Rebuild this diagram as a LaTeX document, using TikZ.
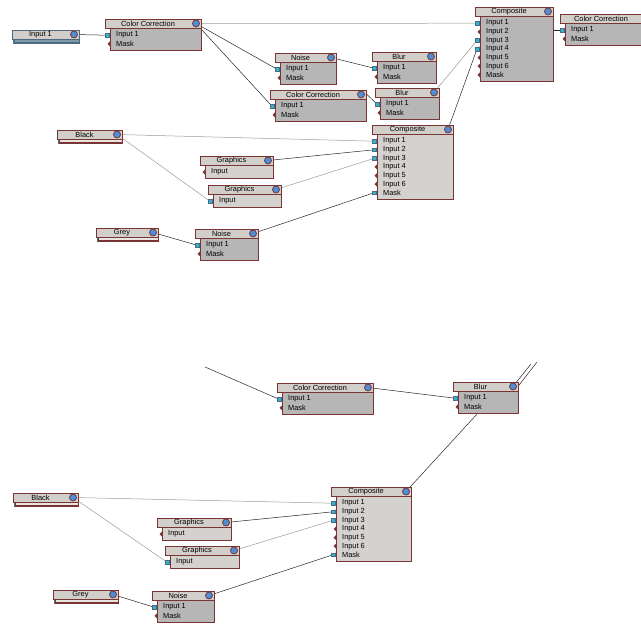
\documentclass[tikz,border=0pt]{standalone}
\usepackage{fontspec}
\setmainfont{Liberation Sans}
\usetikzlibrary{positioning,backgrounds}

\definecolor{nodeedge}{HTML}{7A3434}
\definecolor{nodeshade}{HTML}{3C8282}
\definecolor{titlegray}{HTML}{D2CFCB}
\definecolor{bodydark}{HTML}{B6B6B6}
\definecolor{bodylight}{HTML}{D4D2CE}
\definecolor{portblue}{HTML}{4A8FD8}
\definecolor{portcyan}{HTML}{2FB4D6}
\definecolor{srcedge}{HTML}{4E6A80}
\definecolor{srcstrip}{HTML}{7F98AA}
\definecolor{srclight}{HTML}{E8E4E0}
\definecolor{linkgray}{HTML}{9A9A9A}

% operator block: name, x, y, width, title, rows, body fill
\newcommand\opnode[7]{%
  \foreach \r [count=\i] in {#6} {\xdef\nrows{\i}}%
  \fill[nodeshade] (#2+6,#3+10) rectangle (#2+#4+1.2,#3+14.8+8.6*\nrows);
  \node[opbody, fill=#7, minimum width=#4-5, minimum height=4.6+8.6*\nrows] (#1-body) at (#2+5,#3+9) {};
  \fill[nodeshade] (#2+1,#3+1) rectangle (#2+#4+1.2,#3+10);
  \node[titlebar, minimum width=#4] (#1) at (#2,#3) {};
  \node[titletext] (#1-t) at (#2+#4/2-5,#3+4.6) {#5};
  \node[outport] (#1-out) at (#2+#4-5,#3+4.5) {};
  \foreach \r [count=\i] in {#6} {
    \node[rowtext] (#1-l\i) at (#2+11,#3+7.6+8.6*\i) {\r};
    \coordinate (#1-\i) at (#2+2,#3+7.6+8.6*\i);
    \fill[nodeedge] (#2+5,#3+5.1+8.6*\i) -- (#2+2.5,#3+7.6+8.6*\i) -- (#2+5,#3+10.1+8.6*\i) -- cycle;
  }%
}

% source block: name, x, y, width, title, edge, strip
\newcommand\srcnode[7]{%
  \fill[nodeshade] (#2+1,#3+1) rectangle (#2+#4+1.2,#3+14.2);
  \draw[draw=#6, fill=#7, line width=.6pt] (#2+2,#3+9) rectangle (#2+#4,#3+13);
  \draw[draw=#6, line width=1pt] (#2+2,#3+13) -- (#2+#4,#3+13);
  \node[titlebar, draw=#6, minimum width=#4] (#1) at (#2,#3) {};
  \node[titletext] (#1-t) at (#2+#4/2-5,#3+4.6) {#5};
  \node[outport] (#1-out) at (#2+#4-5,#3+4.5) {};
}

\begin{document}
\begin{tikzpicture}[x=1pt, y=-1pt,
    opbody/.style={draw=nodeedge, line width=.6pt, anchor=north west, inner sep=0pt},
    titlebar/.style={draw=nodeedge, fill=titlegray, line width=.6pt, minimum height=9pt, anchor=north west, inner sep=0pt},
    titletext/.style={font=\fontsize{7.4}{8}\selectfont, inner sep=0pt},
    rowtext/.style={font=\fontsize{7.4}{8}\selectfont, anchor=west, inner sep=0pt},
    outport/.style={circle, draw=nodeedge, fill=portblue, line width=.8pt, minimum size=7pt, inner sep=0pt},
    inport/.style={draw=srcedge, fill=portcyan, line width=.3pt},
    link/.style={draw=black!85, line width=.5pt},
    faint/.style={draw=linkgray, line width=.5pt}]

    \useasboundingbox (0,0) rectangle (641,628);
    \clip (0,0) rectangle (641,628);

    % ---------- upper graph ----------
    \srcnode{in1}{12}{30}{67}{Input 1}{srcedge}{srcstrip}
    \opnode{cca}{105}{19}{96}{Color Correction}{Input 1,Mask}{bodydark}
    \opnode{comp}{475}{7}{78}{Composite}{Input 1,Input 2,Input 3,Input 4,Input 5,Input 6,Mask}{bodydark}
    \opnode{ccr}{560}{14}{92}{Color Correction}{Input 1,Mask}{bodydark}
    \opnode{noiseA}{275}{53}{61}{Noise}{Input 1,Mask}{bodydark}
    \opnode{blurA}{372}{52}{64}{Blur}{Input 1,Mask}{bodydark}
    \opnode{ccb}{270}{90}{96}{Color Correction}{Input 1,Mask}{bodydark}
    \opnode{blurB}{375}{88}{64}{Blur}{Input 1,Mask}{bodydark}
    \opnode{compB}{372}{125}{81}{Composite}{Input 1,Input 2,Input 3,Input 4,Input 5,Input 6,Mask}{bodylight}
    \srcnode{black}{57}{130}{65}{Black}{nodeedge}{srclight}
    \opnode{gfxA}{200}{156}{73}{Graphics}{Input}{bodylight}
    \opnode{gfxB}{208}{185}{73}{Graphics}{Input}{bodylight}
    \srcnode{grey}{96}{228}{62}{Grey}{nodeedge}{srclight}
    \opnode{noiseB}{195}{229}{63}{Noise}{Input 1,Mask}{bodydark}

    % ---------- lower graph ----------
    \opnode{ccc}{277}{383}{96}{Color Correction}{Input 1,Mask}{bodydark}
    \opnode{blurC}{453}{382}{65}{Blur}{Input 1,Mask}{bodydark}
    \srcnode{blackB}{13}{493}{65}{Black}{nodeedge}{srclight}
    \opnode{gfxC}{157}{518}{74}{Graphics}{Input}{bodylight}
    \opnode{gfxD}{165}{546}{74}{Graphics}{Input}{bodylight}
    \opnode{compC}{331}{487}{80}{Composite}{Input 1,Input 2,Input 3,Input 4,Input 5,Input 6,Mask}{bodylight}
    \srcnode{greyB}{53}{590}{65}{Grey}{nodeedge}{srclight}
    \opnode{noiseC}{152}{591}{62}{Noise}{Input 1,Mask}{bodydark}

    % loose ends
    \coordinate (ccIn) at (205,367);
    \coordinate (blurUpA) at (531,364);
    \coordinate (blurUpB) at (537,362);
    \coordinate (blurMask) at (478,413);

    % ---------- connections ----------
    \begin{scope}[on background layer]
        \draw[link] (in1-out) -- (cca-1);
        \draw[faint] (cca-out) -- (comp-1);
        \draw[link] (cca-out) -- (noiseA-1);
        \draw[link] (cca-out) -- (ccb-1);
        \draw[link] (noiseA-out) -- (blurA-1);
        \draw[link] (ccb-out) -- ++(6,0) -- (blurB-1);
        \draw[faint] (blurB-out) -- (comp-3);
        \draw[link] (compB-out) -- (comp-4);
        \draw[link] (comp-out) -- ++(5,0) |- (ccr-1);
        \draw[faint] (black-out) -- (compB-1);
        \draw[faint] (black-out) -- (gfxB-1);
        \draw[link] (gfxA-out) -- (compB-2);
        \draw[faint] (gfxB-out) -- (compB-3);
        \draw[link] (noiseB-out) -- (compB-7);
        \draw[link] (grey-out) -- (noiseB-1);

        \draw[link] (ccIn) -- (ccc-1);
        \draw[link] (ccc-out) -- (blurC-1);
        \draw[link] (blurC-out) -- (blurUpA);
        \draw[link] (blurC-out.south east) -- (blurUpB);
        \draw[link] (compC-out) -- (blurMask);
        \draw[faint] (blackB-out) -- (compC-1);
        \draw[faint] (blackB-out) -- (gfxD-1);
        \draw[link] (gfxC-out) -- (compC-2);
        \draw[faint] (gfxD-out) -- (compC-3);
        \draw[link] (noiseC-out) -- (compC-7);
        \draw[link] (greyB-out) -- (noiseC-1);
    \end{scope}

    % connected input ports
    \foreach \p in {cca-1,comp-1,comp-3,comp-4,ccr-1,noiseA-1,blurA-1,ccb-1,blurB-1,
        compB-1,compB-2,compB-3,compB-7,gfxB-1,noiseB-1,ccc-1,blurC-1,
        compC-1,compC-2,compC-3,compC-7,gfxD-1,noiseC-1}
        \draw[inport] ([shift={(-1.8,-1.8)}]\p) rectangle ++(3.6,3.6);

\end{tikzpicture}
\end{document}
